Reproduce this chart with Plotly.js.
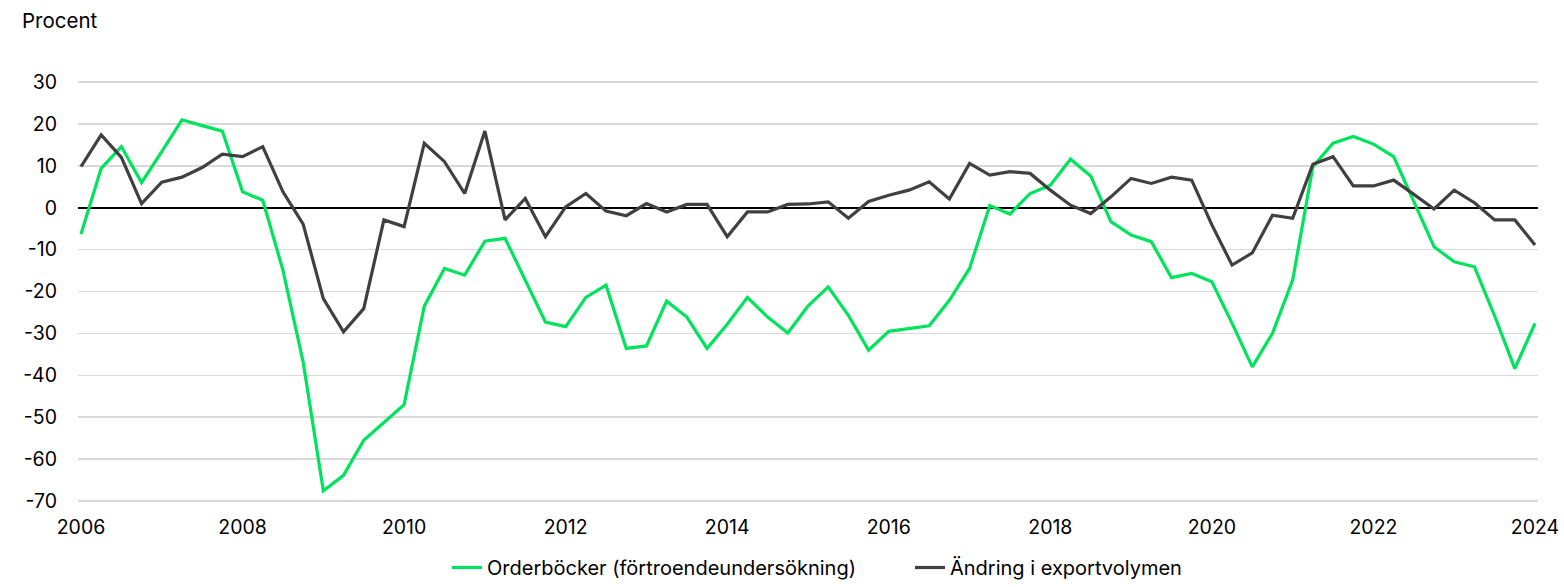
<!DOCTYPE html>
<html>
<head>
<meta charset="utf-8">
<script src="https://cdn.plot.ly/plotly-3.0.1.min.js"></script>
<style>html,body{margin:0;padding:0;background:#fff;}#chart{width:1564px;height:587px;}</style>
</head>
<body>
<div id="chart"></div>
<script>
// Quarterly observations, 2006 Q1 .. 2024 Q1
const startYear = 2006;
const orderbocker = [
  -6.3, 9.4, 14.6, 6.0, 13.4, 21.0, 19.6, 18.3,
  3.8, 1.8, -14.9, -36.8, -67.6, -63.9, -55.5, -51.2,
  -47.0, -23.5, -14.5, -16.1, -8.0, -7.3, -17.3, -27.3,
  -28.4, -21.4, -18.5, -33.6, -33.0, -22.3, -26.1, -33.6,
  -27.8, -21.4, -26.1, -29.9, -23.5, -18.9, -25.7, -34.0,
  -29.5, -28.8, -28.2, -22.1, -14.5, 0.5, -1.5, 3.4,
  5.4, 11.6, 7.6, -3.3, -6.5, -8.1, -16.7, -15.7,
  -17.7, -27.6, -38.0, -30.0, -17.3, 9.8, 15.4, 17.0,
  15.2, 12.2, 1.5, -9.3, -12.9, -14.1, -25.8, -38.4,
  -27.6
];
const exportvolym = [
  9.8, 17.4, 12.0, 1.0, 6.1, 7.3, 9.6, 12.8,
  12.2, 14.6, 3.8, -3.9, -21.7, -29.6, -24.1, -2.9,
  -4.5, 15.4, 11.0, 3.4, 18.3, -2.9, 2.2, -6.9,
  0.2, 3.4, -0.8, -1.9, 1.0, -1.0, 0.8, 0.8,
  -6.9, -1.0, -1.0, 0.8, 0.9, 1.4, -2.5, 1.5,
  3.0, 4.2, 6.2, 2.1, 10.6, 7.8, 8.6, 8.2,
  4.2, 0.6, -1.4, 2.6, 7.0, 5.8, 7.3, 6.6,
  -4.1, -13.7, -10.8, -1.8, -2.5, 10.4, 12.2, 5.2,
  5.2, 6.6, 3.2, -0.3, 4.2, 1.2, -2.9, -2.9,
  -8.9
];
const xTicks = [2006, 2008, 2010, 2012, 2014, 2016, 2018, 2020, 2022, 2024];
const yTicks = [30, 20, 10, 0, -10, -20, -30, -40, -50, -60, -70];
const seriesNames = ["Orderböcker (förtroendeundersökning)", "Ändring i exportvolymen"];
const yTitle = "Procent";

const xs = orderbocker.map((_, i) => startYear + i / 4);

const font = {family: "Inter, 'Noto Sans', Arial, sans-serif", size: 19.5, color: "#000"};
const legendFont = Object.assign({}, font, {size: 20});

const traces = [
  {x: xs, y: orderbocker, type: "scatter", mode: "lines", name: seriesNames[0],
   line: {color: "#00E35C", width: 3.2}, legend: "legend"},
  {x: xs, y: exportvolym, type: "scatter", mode: "lines", name: seriesNames[1],
   line: {color: "#404040", width: 3.2}, legend: "legend2"}
];

const legendBase = {orientation: "h", xanchor: "left", y: -84 / 423, yanchor: "bottom",
                    font: legendFont, itemwidth: 30, bgcolor: "rgba(0,0,0,0)",
                    borderwidth: 0};

const layout = {
  width: 1564, height: 587,
  paper_bgcolor: "#fff", plot_bgcolor: "#fff",
  font: font,
  margin: {l: 78, r: 26, t: 80, b: 84, pad: 0, autoexpand: false},
  title: {text: yTitle, x: 22 / 1564, xanchor: "left", xref: "container",
          y: 1 - 21 / 587, yanchor: "middle", yref: "container",
          font: Object.assign({}, font, {size: 20.5})},
  xaxis: {range: [2005.963, 2024.037], tickvals: xTicks, ticktext: xTicks.map(String),
          showgrid: false, zeroline: false, showline: false, ticks: "",
          ticklabelstandoff: 10, tickfont: font, fixedrange: true, automargin: false},
  yaxis: {range: [-70.5, 30.5], tickvals: yTicks, ticktext: yTicks.map(String),
          showgrid: true, gridcolor: "#d9d9d9", gridwidth: 1.5,
          zeroline: true, zerolinecolor: "#000", zerolinewidth: 2,
          showline: false, ticks: "", ticklabelstandoff: 20, tickfont: font,
          fixedrange: true, automargin: false},
  showlegend: true,
  legend: Object.assign({}, legendBase, {x: (447 - 78) / 1460}),
  legend2: Object.assign({}, legendBase, {x: (910 - 78) / 1460}),
  hovermode: false
};

Plotly.newPlot("chart", traces, layout, {displayModeBar: false, staticPlot: true});
</script>
</body>
</html>
